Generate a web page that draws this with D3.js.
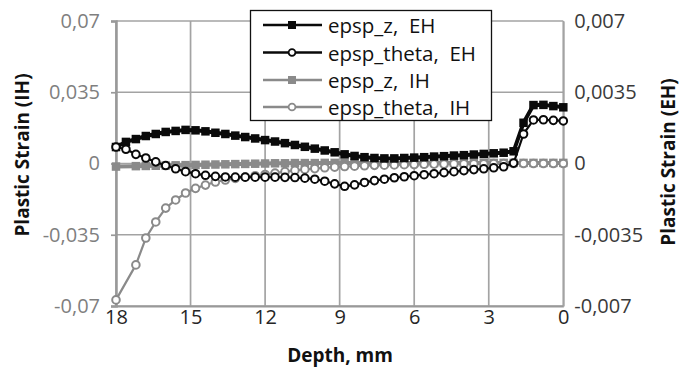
<!DOCTYPE html>
<html>
<head>
<meta charset="utf-8">
<script src="https://cdn.jsdelivr.net/npm/d3@7"></script>
<style>
  html, body { margin: 0; padding: 0; background: #fff; }
  svg { display: block; }
  text { font-family: "Open Sans", sans-serif; }
</style>
</head>
<body>
<svg id="chart" width="688" height="368"></svg>
<script>
// ---------------- DATA ----------------
const depthTicks = [18, 15, 12, 9, 6, 3, 0];
const depthTickLabels = ["18", "15", "12", "9", "6", "3", "0"];

const leftTickValues = [-0.07, -0.035, 0, 0.035, 0.07];
const leftTickLabels = ["-0,07", "-0,035", "0", "0,035", "0,07"];
const rightTickValues = [-0.007, -0.0035, 0, 0.0035, 0.007];
const rightTickLabels = ["-0,007", "-0,0035", "0", "0,0035", "0,007"];

const seriesNames = ["epsp_z,  EH", "epsp_theta,  EH", "epsp_z,  IH", "epsp_theta,  IH"];

// EH series (secondary / right axis)
const depthEH = [18, 17.6, 17.2, 16.8, 16.4, 16.0, 15.6, 15.2, 14.8, 14.4, 14.0, 13.6, 13.2, 12.8, 12.4, 12.0,
  11.6, 11.2, 10.8, 10.4, 10.0, 9.6, 9.2, 8.8, 8.4, 8.0, 7.6, 7.2, 6.8, 6.4, 6.0, 5.6, 5.2, 4.8, 4.4, 4.0,
  3.6, 3.2, 2.8, 2.4, 2.0, 1.6, 1.2, 0.8, 0.4, 0.0];
const epspZ_EH = [0.00081, 0.00106, 0.0012, 0.00135, 0.00145, 0.00155, 0.0016, 0.00165, 0.00163, 0.00158, 0.00151,
  0.00145, 0.00137, 0.0013, 0.00123, 0.00115, 0.00108, 0.001, 0.00091, 0.00082, 0.00073, 0.00064, 0.00055,
  0.00045, 0.00037, 0.00031, 0.00027, 0.00025, 0.00025, 0.00027, 0.00029, 0.00031, 0.00034, 0.00036, 0.00039,
  0.00041, 0.00044, 0.00047, 0.0005, 0.00053, 0.0006, 0.002, 0.00287, 0.00288, 0.00282, 0.00276];
const epspTheta_EH = [0.00081, 0.0007, 0.00045, 0.00027, 0.00008, -0.0001, -0.00026, -0.0004, -0.0005, -0.00058,
  -0.00063, -0.00066, -0.00067, -0.00067, -0.00067, -0.00067, -0.00067, -0.00068, -0.00069, -0.00072, -0.00077,
  -0.00087, -0.001, -0.00112, -0.00105, -0.00093, -0.00084, -0.00077, -0.0007, -0.00065, -0.0006, -0.00055,
  -0.0005, -0.00045, -0.0004, -0.00035, -0.0003, -0.00026, -0.00021, -0.00016, 0.00002, 0.00145, 0.00214,
  0.00215, 0.00212, 0.00209];

// IH series (primary / left axis)
const depthIH = [18, 17.2, 16.8, 16.4, 16.0, 15.6, 15.2, 14.8, 14.4, 14.0, 13.6, 13.2, 12.8, 12.4, 12.0,
  11.6, 11.2, 10.8, 10.4, 10.0, 9.6, 9.2, 8.8, 8.4, 8.0, 7.6, 7.2, 6.8, 6.4, 6.0, 5.6, 5.2, 4.8, 4.4, 4.0,
  3.6, 3.2, 2.8, 2.4, 2.0, 1.6, 1.2, 0.8, 0.4, 0.0];
const epspZ_IH = [-0.0015, -0.0013, -0.0012, -0.0011, -0.001, -0.0009, -0.0008, -0.0007, -0.0006, -0.0005,
  -0.0004, -0.0003, -0.0002, -0.0001, 0, 0.0001, 0.0001, 0.0002, 0.0002, 0.0002, 0.0003, 0.0003, 0.0003,
  0.0003, 0.0003, 0.0003, 0.0003, 0.0003, 0.0003, 0.0003, 0.0003, 0.0003, 0.0003, 0.0003, 0.0003, 0.0003,
  0.0003, 0.0003, 0.0003, 0.0003, 0.0003, 0.0003, 0.0003, 0.0003, 0.0003];
const epspTheta_IH = [-0.067, -0.0498, -0.0366, -0.0287, -0.0219, -0.0179, -0.0145, -0.0122, -0.0106, -0.0091,
  -0.0081, -0.0073, -0.0066, -0.006, -0.0054, -0.0047, -0.004, -0.0034, -0.0029, -0.0025, -0.0021, -0.0018,
  -0.0015, -0.0013, -0.0011, -0.0009, -0.0008, -0.0007, -0.0006, -0.0005, -0.0004, -0.0003, -0.0003, -0.0002,
  -0.0002, -0.0001, -0.0001, 0, 0, 0, 0, 0, 0, 0, 0];

// ---------------- CHART ----------------
const svg = d3.select("#chart");
const plot = { left: 116, right: 563.3, top: 21, bottom: 306 };

const x = d3.scaleLinear().domain([18, 0]).range([plot.left, plot.right]);
const yL = d3.scaleLinear().domain([-0.07, 0.07]).range([plot.bottom, plot.top]);
const yR = d3.scaleLinear().domain([-0.007, 0.007]).range([plot.bottom, plot.top]);

const gridColor = "#a3a3a3";
const black = "#0a0a0a";
const gray = "#8a8a8a";

const defs = svg.append("defs");
const f = defs.append("filter").attr("id", "blur").attr("x", "-50%").attr("y", "-5%").attr("width", "200%").attr("height", "110%");
f.append("feGaussianBlur").attr("stdDeviation", 2.2);

// gridlines
const grid = svg.append("g");
grid.selectAll("line.h").data(leftTickValues).join("line")
  .attr("x1", plot.left).attr("x2", plot.right)
  .attr("y1", d => yL(d)).attr("y2", d => yL(d))
  .attr("stroke", gridColor).attr("stroke-width", 1.7);
grid.selectAll("line.v").data(depthTicks).join("line")
  .attr("x1", d => x(d)).attr("x2", d => x(d))
  .attr("y1", plot.top).attr("y2", plot.bottom)
  .attr("stroke", gridColor).attr("stroke-width", 1.7);

// left axis with shadow
svg.append("line").attr("x1", plot.left).attr("x2", plot.left).attr("y1", plot.top).attr("y2", plot.bottom)
  .attr("stroke", "#999").attr("stroke-width", 7).attr("filter", "url(#blur)").attr("opacity", 0.85);
const gLeft = svg.append("g").attr("transform", `translate(${plot.left},0)`)
  .call(d3.axisLeft(yL).tickValues(leftTickValues).tickSize(5).tickPadding(11)
    .tickFormat((d, i) => leftTickLabels[i]));
gLeft.select(".domain").attr("stroke", "#999").attr("stroke-width", 2.5);
gLeft.selectAll(".tick line").attr("stroke", "#999").attr("stroke-width", 1.7);
gLeft.selectAll(".tick text").attr("fill", "#7f7f7f").style("font-size", "20px").style("font-family", "'Open Sans', sans-serif");

// bottom axis
const gBottom = svg.append("g").attr("transform", `translate(0,${plot.bottom})`)
  .call(d3.axisBottom(x).tickValues(depthTicks).tickSize(0).tickPadding(4)
    .tickFormat((d, i) => depthTickLabels[i]));
gBottom.select(".domain").attr("stroke", "#999").attr("stroke-width", 2);
gBottom.selectAll(".tick text").attr("fill", "#262626").style("font-size", "20px").style("font-family", "'Open Sans', sans-serif");

// right axis
const gRight = svg.append("g").attr("transform", `translate(${plot.right},0)`)
  .call(d3.axisRight(yR).tickValues(rightTickValues).tickSize(0).tickPadding(11)
    .tickFormat((d, i) => rightTickLabels[i]));
gRight.select(".domain").attr("stroke", gridColor).attr("stroke-width", 1.7);
gRight.selectAll(".tick text").attr("fill", "#3a3a3a").style("font-size", "20px").style("font-family", "'Open Sans', sans-serif");

// series drawing helper
function drawSeries(depths, values, yScale, color, lineW, marker, size) {
  const pts = depths.map((d, i) => [x(d), yScale(values[i])]);
  const g = svg.append("g");
  g.append("path").attr("d", d3.line()(pts)).attr("fill", "none")
    .attr("stroke", color).attr("stroke-width", lineW).attr("stroke-linejoin", "round");
  if (marker === "square") {
    g.selectAll("rect").data(pts).join("rect")
      .attr("x", p => p[0] - size / 2).attr("y", p => p[1] - size / 2)
      .attr("width", size).attr("height", size).attr("fill", color);
  } else {
    g.selectAll("circle").data(pts).join("circle")
      .attr("cx", p => p[0]).attr("cy", p => p[1]).attr("r", size / 2)
      .attr("fill", "#fff").attr("stroke", color).attr("stroke-width", 2);
  }
}

drawSeries(depthIH, epspZ_IH, yL, gray, 4, "square", 8.5);
drawSeries(depthIH, epspTheta_IH, yL, gray, 2.2, "circle", 7.6);
drawSeries(depthEH, epspZ_EH, yR, black, 4, "square", 8.5);
drawSeries(depthEH, epspTheta_EH, yR, black, 2.2, "circle", 7.6);

// axis titles
svg.append("text").attr("transform", "translate(22,155) rotate(-90)")
  .attr("text-anchor", "middle").attr("dominant-baseline", "central")
  .style("font-size", "19px").style("font-weight", "bold").attr("fill", "#111")
  .text("Plastic Strain (IH)");
svg.append("text").attr("transform", "translate(668,162) rotate(-90)")
  .attr("text-anchor", "middle").attr("dominant-baseline", "central")
  .style("font-size", "19px").style("font-weight", "bold").attr("fill", "#111")
  .text("Plastic Strain (EH)");
svg.append("text").attr("x", 340).attr("y", 362)
  .attr("text-anchor", "middle")
  .style("font-size", "19px").style("font-weight", "bold").attr("fill", "#111")
  .text("Depth, mm");

// legend
const legend = svg.append("g");
legend.append("rect").attr("x", 250.5).attr("y", 10.5).attr("width", 241).attr("height", 110)
  .attr("fill", "#fff").attr("stroke", "#111").attr("stroke-width", 1.3);
const legColors = [black, black, gray, gray];
const legMarkers = ["square", "circle", "square", "circle"];
const legY = [25, 52.5, 80, 107];
seriesNames.forEach((name, i) => {
  const yy = legY[i];
  legend.append("line").attr("x1", 263).attr("x2", 322).attr("y1", yy).attr("y2", yy)
    .attr("stroke", legColors[i]).attr("stroke-width", 2.6);
  if (legMarkers[i] === "square") {
    legend.append("rect").attr("x", 288).attr("y", yy - 4).attr("width", 8).attr("height", 8).attr("fill", legColors[i]);
  } else {
    legend.append("circle").attr("cx", 292).attr("cy", yy).attr("r", 3.4)
      .attr("fill", "#fff").attr("stroke", legColors[i]).attr("stroke-width", 1.8);
  }
  legend.append("text").attr("x", 328).attr("y", yy).attr("dominant-baseline", "central")
    .attr("xml:space", "preserve").style("white-space", "pre")
    .style("font-size", "20.5px").attr("fill", "#111").text(name);
});
</script>
</body>
</html>
